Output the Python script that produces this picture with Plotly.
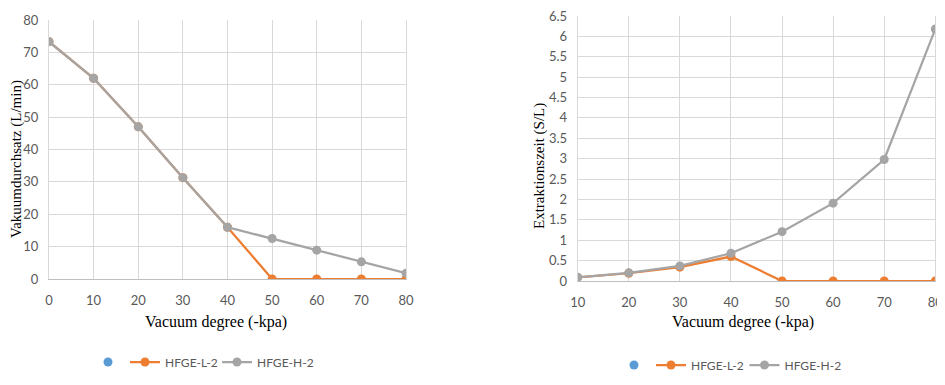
import plotly.graph_objects as go

# Data
vac_left = [0, 10, 20, 30, 40, 50, 60, 70, 80]
flow_L2 = [73.3, 62.0, 47.0, 31.3, 16.0, 0, 0, 0, 0]
flow_H2 = [73.3, 62.0, 47.0, 31.3, 16.0, 12.5, 8.9, 5.3, 1.8]

vac_right = [10, 20, 30, 40, 50, 60, 70, 80]
time_L2 = [0.09, 0.19, 0.34, 0.60, 0, 0, 0, 0]
time_H2 = [0.09, 0.20, 0.37, 0.68, 1.21, 1.91, 2.98, 6.18]

ORANGE = "#ed7d31"
GRAY = "#a5a5a5"
BLUE = "#5b9bd5"
TICK = "#595959"
GRID = "#d9d9d9"

W, H = 945, 385
OFF = 8  # default page body margin
FW, FH = W - OFF, H - OFF


def px(x):
    return (x - OFF) / FW


def py(y):
    return (H - y) / FH


fig = go.Figure()


def add_series(x, y, name, color, xa, ya, legend):
    fig.add_trace(go.Scatter(x=x, y=y, name=name, mode="lines+markers",
                             line=dict(color=color, width=2.25),
                             marker=dict(color=color, size=9),
                             xaxis=xa, yaxis=ya, legend=legend))


for xa, ya, leg in [("x", "y", "legend3"), ("x2", "y2", "legend4")]:
    fig.add_trace(go.Scatter(x=[None], y=[None], name="", mode="markers",
                             marker=dict(color=BLUE, size=9),
                             xaxis=xa, yaxis=ya, legend=leg))

add_series(vac_left, flow_L2, "HFGE-L-2", ORANGE, "x", "y", "legend")
add_series(vac_left, flow_H2, "HFGE-H-2", GRAY, "x", "y", "legend5")
add_series(vac_right, time_L2, "HFGE-L-2", ORANGE, "x2", "y2", "legend2")
add_series(vac_right, time_H2, "HFGE-H-2", GRAY, "x2", "y2", "legend6")

tickfont = dict(family="Lato, 'Open Sans', sans-serif", size=13, color=TICK)
xcommon = dict(showgrid=True, gridcolor=GRID, gridwidth=1, showline=True,
               linecolor="#bfbfbf", linewidth=1, mirror=False, zeroline=False,
               tickfont=tickfont, ticks="", fixedrange=True, automargin=False,
               ticklabelstandoff=9, ticklabeloverflow="allow")
ycommon = dict(showgrid=True, gridcolor=GRID, gridwidth=1, showline=True,
               linecolor=GRID, linewidth=1, mirror=True, zeroline=False,
               tickfont=tickfont, ticks="", fixedrange=True, automargin=False,
               ticklabelstandoff=7, ticklabeloverflow="allow")

legfont = dict(family="Lato, 'Open Sans', sans-serif", size=12, color=TICK)


def leg(xs, ys):
    return dict(orientation="h", x=px(xs), xanchor="left", y=py(ys), yanchor="middle",
                font=legfont, bgcolor="rgba(0,0,0,0)")


fig.update_layout(
    width=FW, height=FH,
    margin=dict(l=0, r=0, t=0, b=0),
    paper_bgcolor="white", plot_bgcolor="white",
    xaxis=dict(domain=[px(49), px(406)], range=[0, 80], dtick=10, anchor="y", **xcommon),
    yaxis=dict(domain=[py(279), py(20)], range=[0, 80], tick0=0, dtick=10, anchor="x", **ycommon),
    xaxis2=dict(domain=[px(577.7), px(935.3)], range=[10, 80], dtick=10, anchor="y2", **xcommon),
    yaxis2=dict(domain=[py(281), py(16)], range=[0, 6.5], tick0=0, dtick=0.5, anchor="x2", **ycommon),
    legend=leg(125, 362),
    legend5=leg(217, 362),
    legend2=leg(651, 365),
    legend6=leg(744.5, 365),
    legend3=leg(88, 362),
    legend4=leg(614, 365),
    showlegend=True,
)

xtitlefont = dict(family="'Liberation Serif', 'Times New Roman', serif", size=16, color="#000000")
ytitlefont = dict(family="'Liberation Serif', 'Times New Roman', serif", size=15, color="#000000")
fig.add_annotation(text="Vacuum degree (-kpa)", x=px(216), y=py(322), xref="paper", yref="paper",
                   showarrow=False, font=xtitlefont, xanchor="center", yanchor="middle")
fig.add_annotation(text="Vacuum degree (-kpa)", x=px(743), y=py(322), xref="paper", yref="paper",
                   showarrow=False, font=xtitlefont, xanchor="center", yanchor="middle")
fig.add_annotation(text="Vakuumdurchsatz (L/min)", x=px(16), y=py(159), xref="paper", yref="paper",
                   showarrow=False, font=ytitlefont, textangle=-90, xanchor="center", yanchor="middle")
fig.add_annotation(text="Extraktionszeit (S/L)", x=px(539), y=py(166), xref="paper", yref="paper",
                   showarrow=False, font=ytitlefont, textangle=-90, xanchor="center", yanchor="middle")

fig.write_html("out.html")
